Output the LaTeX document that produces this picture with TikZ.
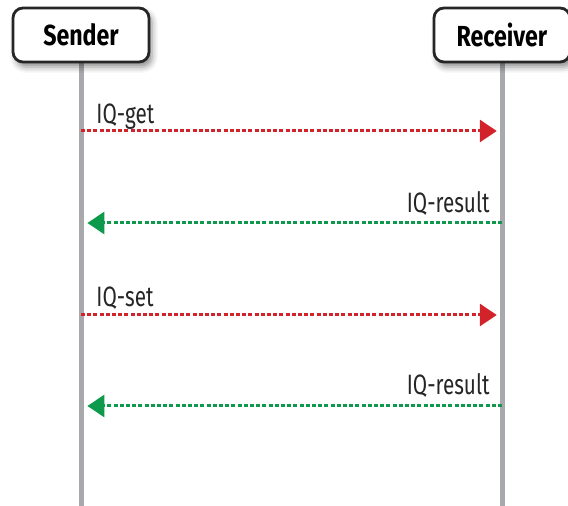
\documentclass[tikz,border=0pt]{standalone}
\usepackage{fontspec}
\setmainfont{Fira Sans}[FakeStretch=0.8]
\newfontfamily\msgfont{Fira Sans}[FakeStretch=0.74]
\usetikzlibrary{arrows.meta,shadows.blur}

\definecolor{reqred}{HTML}{D2232A}
\definecolor{resgreen}{HTML}{0E9A4C}
\definecolor{lifegray}{HTML}{A7A9AC}

\begin{document}
\begin{tikzpicture}[x=0.5pt,y=-0.5pt,
  actor/.style={draw=black!85,line width=1.4pt,rounded corners=5pt,fill=white,
    minimum width=68pt,minimum height=27pt,inner sep=0pt,
    font=\bfseries\fontsize{14.5}{16}\selectfont,
    blur shadow={shadow xshift=1.5pt,shadow yshift=-2.5pt,shadow opacity=45,shadow blur radius=3pt}},
  lifeline/.style={line width=2.5pt,lifegray},
  msgline/.style={line width=1.5pt,dash pattern=on 2pt off 1.1pt,
    -{Triangle[length=8.5pt,width=11pt]}},
  req/.style={msgline,reqred,shorten >=2.6pt},
  res/.style={msgline,resgreen,shorten >=3.2pt},
  msg/.style={font=\msgfont\fontsize{14}{16}\selectfont,text=black!85,inner sep=0pt}]
\useasboundingbox (0,0) rectangle (568,506);

% lifelines
\coordinate (send end) at (81,506);
\coordinate (recv end) at (502,506);
\draw[lifeline] (81,40) -- (send end);
\draw[lifeline] (502,40) -- (recv end);
\node[actor] (sender) at (81,35) {Sender};
\node[actor] (receiver) at (502,35) {Receiver};

% message points on the lifelines
\coordinate (s1) at (81,131);
\coordinate (r1) at (502,131);
\coordinate (s2) at (81,223);
\coordinate (r2) at (502,223);
\coordinate (s3) at (81,315);
\coordinate (r3) at (502,315);
\coordinate (s4) at (81,406);
\coordinate (r4) at (502,406);

\draw[req] (s1) -- (r1);
\draw[res] (r2) -- (s2);
\draw[req] (s3) -- (r3);
\draw[res] (r4) -- (s4);

\node[msg,anchor=base west] (get) at (96,124) {IQ-get};
\node[msg,anchor=base east] (result1) at (490,213) {IQ-result};
\node[msg,anchor=base west] (set) at (96,307) {IQ-set};
\node[msg,anchor=base east] (result2) at (490,395) {IQ-result};
\end{tikzpicture}
\end{document}
